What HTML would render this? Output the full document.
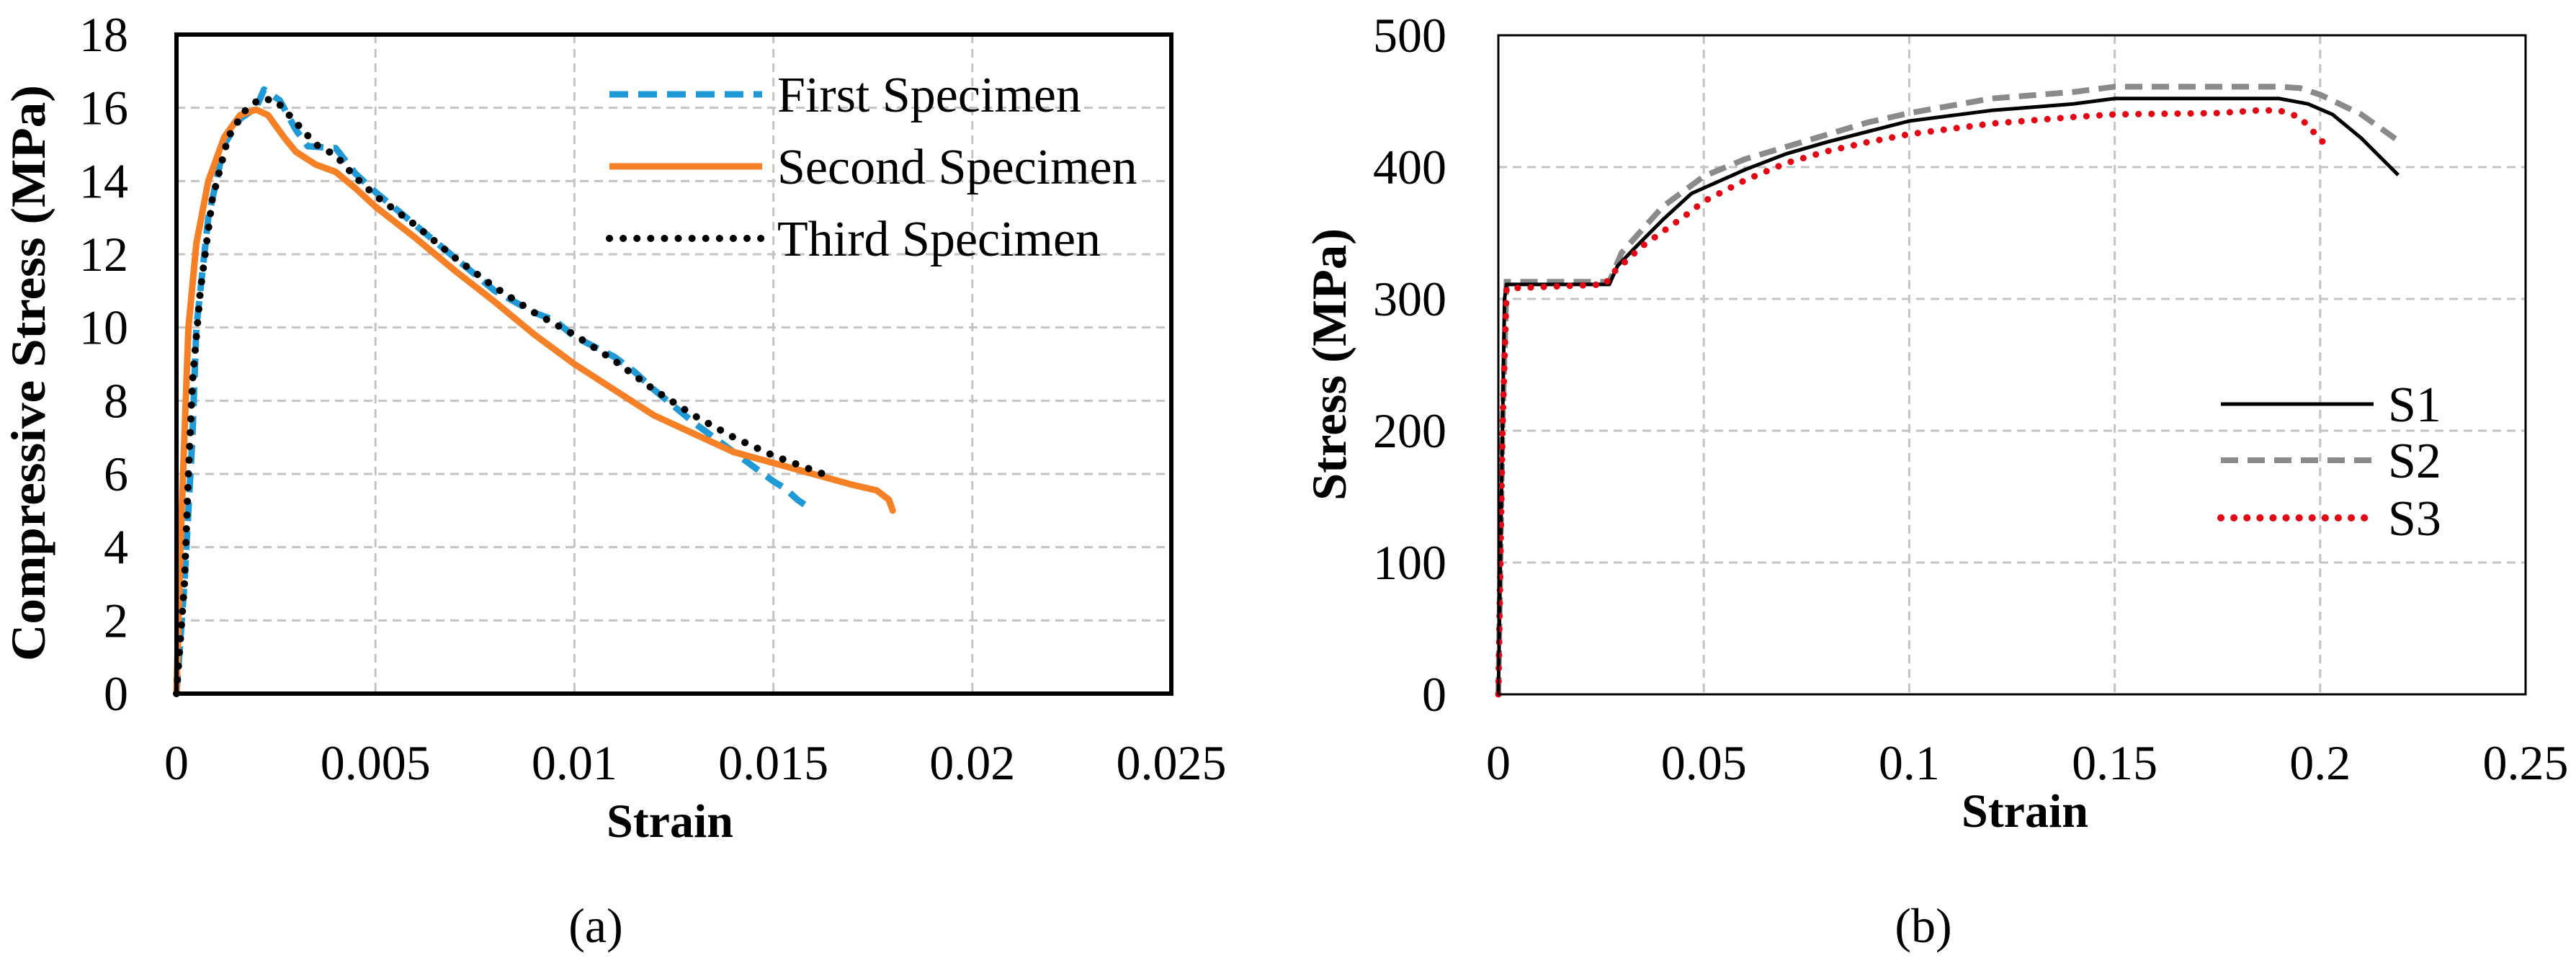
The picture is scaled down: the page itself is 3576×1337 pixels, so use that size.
<!DOCTYPE html>
<html><head><meta charset="utf-8">
<style>
html,body{margin:0;padding:0;background:#fff;}
svg{display:block;}
text{font-family:"Liberation Serif",serif;fill:#000;}
</style></head>
<body>
<svg id="fig" width="3576" height="1337" viewBox="0 0 3576 1337" xmlns="http://www.w3.org/2000/svg">
<g id="chartA"></g>
<g id="chartB"></g>
</svg>
<script>
// ---- Chart (a) data ----
const aXTicks = [0, 0.005, 0.01, 0.015, 0.02, 0.025];
const aXTickLabels = ["0", "0.005", "0.01", "0.015", "0.02", "0.025"];
const aYTicks = [0, 2, 4, 6, 8, 10, 12, 14, 16, 18];
const aFirstX = [0,0.0002,0.0004,0.0005,0.0008,0.0012,0.0016,0.002,0.0022,0.0026,0.003,0.0033,0.004,0.0045,0.005,0.006,0.007,0.008,0.009,0.0095,0.010,0.011,0.0115,0.012,0.013,0.014,0.015,0.0153,0.0156,0.0158];
const aFirstY = [0,3,7,10,13,15,15.7,16,16.5,16.2,15.4,14.95,14.9,14.2,13.7,12.8,11.9,11.0,10.4,10.2,9.75,9.2,8.8,8.3,7.4,6.6,5.8,5.6,5.3,5.15];
const aSecondX = [0,0.0001,0.0002,0.0003,0.0005,0.0008,0.0012,0.0016,0.002,0.0023,0.0027,0.003,0.0035,0.004,0.0045,0.005,0.006,0.007,0.008,0.009,0.010,0.011,0.012,0.013,0.014,0.015,0.016,0.017,0.0176,0.0179,0.018];
const aSecondY = [0,4,7,10,12.3,14,15.2,15.8,15.95,15.8,15.2,14.8,14.45,14.25,13.8,13.3,12.45,11.55,10.7,9.8,9.0,8.3,7.6,7.1,6.6,6.3,6.0,5.7,5.55,5.3,5.0];
const aThirdX = [0,0.0002,0.0003,0.0004,0.0006,0.0009,0.0013,0.0017,0.0021,0.0025,0.003,0.0035,0.004,0.0045,0.005,0.006,0.007,0.008,0.009,0.010,0.011,0.012,0.013,0.014,0.015,0.016,0.0165];
const aThirdY = [0,3,6,8.5,11,13.5,15.2,15.9,16.25,16.2,15.6,15.0,14.7,14.1,13.6,12.8,11.9,11.1,10.4,9.8,9.1,8.3,7.6,7.0,6.5,6.1,5.9];

// ---- Chart (b) data ----
const bXTicks = [0, 0.05, 0.1, 0.15, 0.2, 0.25];
const bXTickLabels = ["0", "0.05", "0.1", "0.15", "0.2", "0.25"];
const bYTicks = [0, 100, 200, 300, 400, 500];
const bS1X = [0,0.001,0.0015,0.002,0.027,0.029,0.033,0.04,0.047,0.06,0.07,0.08,0.09,0.1,0.12,0.14,0.15,0.19,0.197,0.203,0.21,0.219];
const bS1Y = [0,200,300,311,311,325,338,360,380,398,410,419,427,435,443,448,452,452,448,440,422,394];
const bS2X = [0,0.001,0.002,0.027,0.03,0.04,0.05,0.06,0.075,0.09,0.1,0.12,0.14,0.15,0.19,0.195,0.2,0.21,0.219];
const bS2Y = [0,200,313,313,335,370,393,406,420,434,441,452,457,461,461,460,455,440,420];
const bS3X = [0,0.001,0.002,0.026,0.028,0.035,0.045,0.05,0.06,0.07,0.08,0.09,0.1,0.12,0.14,0.15,0.175,0.185,0.19,0.195,0.198,0.201];
const bS3Y = [0,200,308,311,320,340,362,374,390,403,412,419,425,433,438,440,441,443,443,438,428,418];

const NS = "http://www.w3.org/2000/svg";
function mk(parent, tag, attrs, txt){
  const e = document.createElementNS(NS, tag);
  for (const k in attrs) e.setAttribute(k, attrs[k]);
  if (txt !== undefined) e.textContent = txt;
  parent.appendChild(e);
  return e;
}
function linear(d0,d1,r0,r1){ return v => r0 + (v-d0)/(d1-d0)*(r1-r0); }
function pathD(xs, ys, sx, sy){
  return xs.map((x,i)=>(i?"L":"M")+sx(x).toFixed(1)+","+sy(ys[i]).toFixed(1)).join("");
}

// ===== Chart A =====
(function(){
  const g = document.getElementById('chartA');
  const L=245,R=1626,T=48,B=963;
  const sx = linear(0,0.025,L,R), sy = linear(0,18,B,T);
  aXTicks.forEach((t,i)=>{
    if(i>0 && i<aXTicks.length-1){
      const l = mk(g,'line',{x1:sx(t),x2:sx(t),y1:T,y2:B,stroke:'#c4c4c4','stroke-width':3,'stroke-dasharray':'12 8'});
      
      
    }
    const tx = mk(g,'text',{x:sx(t),y:1082,'font-size':68,'text-anchor':'middle'},aXTickLabels[i]);
    
    
  });
  aYTicks.forEach((t,i)=>{
    if(i>0 && i<aYTicks.length-1){
      const l = mk(g,'line',{x1:L,x2:R,y1:sy(t),y2:sy(t),stroke:'#c4c4c4','stroke-width':3,'stroke-dasharray':'12 8'});
      
      
    }
    const tx = mk(g,'text',{x:178,y:sy(t)+23,'font-size':68,'text-anchor':'end'},String(t));
    
    
  });
  const first = mk(g,'path',{d:pathD(aFirstX,aFirstY,sx,sy),fill:'none',stroke:'#1f9ad6','stroke-width':9,'stroke-dasharray':'26 14','stroke-linejoin':'round'});
  
  
  const second = mk(g,'path',{d:pathD(aSecondX,aSecondY,sx,sy),fill:'none',stroke:'#f58025','stroke-width':9,'stroke-linejoin':'round','stroke-linecap':'round'});
  
  
  const third = mk(g,'path',{d:pathD(aThirdX,aThirdY,sx,sy),fill:'none',stroke:'#000','stroke-width':10,'stroke-dasharray':'0.1 19','stroke-linecap':'round'});
  
  
  const frame = mk(g,'rect',{x:L,y:T,width:R-L,height:B-T,fill:'none',stroke:'#000','stroke-width':6});
  
  
  // legend
  const leg = mk(g,'g',{});
  
  
  const rows = [["First Specimen",131,{stroke:'#1f9ad6','stroke-dasharray':'26 14'}],["Second Specimen",231,{stroke:'#f58025'}],["Third Specimen",331,{stroke:'#000','stroke-dasharray':'0.1 19','stroke-linecap':'round','stroke-width':10}]];
  rows.forEach(r=>{
    const a = Object.assign({x1:846,x2:1058,y1:r[1],y2:r[1],'stroke-width':9},r[2]);
    const ln = mk(leg,'line',a);
    
    
    const tx = mk(leg,'text',{x:1079,y:r[1]+24,'font-size':70},r[0]);
    
    
  });
  const yt = mk(g,'text',{transform:'translate(62,518) rotate(-90)','font-size':68,'font-weight':'bold','text-anchor':'middle',textLength:800,lengthAdjust:'spacingAndGlyphs'},'Compressive Stress (MPa)');
  
  
  const xt = mk(g,'text',{x:930,y:1162,'font-size':66,'font-weight':'bold','text-anchor':'middle'},'Strain');
  
  
  const cap = mk(g,'text',{x:827,y:1308,'font-size':68,'text-anchor':'middle'},'(a)');
  
  
})();

// ===== Chart B =====
(function(){
  const g = document.getElementById('chartB');
  const L=2080,R=3506,T=49,B=964;
  const sx = linear(0,0.25,L,R), sy = linear(0,500,B,T);
  bXTicks.forEach((t,i)=>{
    if(i>0 && i<bXTicks.length-1){
      const l = mk(g,'line',{x1:sx(t),x2:sx(t),y1:T,y2:B,stroke:'#c4c4c4','stroke-width':3,'stroke-dasharray':'12 8'});
      
      
    }
    const tx = mk(g,'text',{x:sx(t),y:1082,'font-size':68,'text-anchor':'middle'},bXTickLabels[i]);
    
    
  });
  bYTicks.forEach((t,i)=>{
    if(i>0 && i<bYTicks.length-1){
      const l = mk(g,'line',{x1:L,x2:R,y1:sy(t),y2:sy(t),stroke:'#c4c4c4','stroke-width':3,'stroke-dasharray':'12 8'});
      
      
    }
    const tx = mk(g,'text',{x:2008,y:sy(t)+23,'font-size':68,'text-anchor':'end'},String(t));
    
    
  });
  const s2 = mk(g,'path',{d:pathD(bS2X,bS2Y,sx,sy),fill:'none',stroke:'#8a8a8a','stroke-width':8,'stroke-dasharray':'24 13'});
  
  
  const s1 = mk(g,'path',{d:pathD(bS1X,bS1Y,sx,sy),fill:'none',stroke:'#000','stroke-width':5,'stroke-linejoin':'round'});
  
  
  const s3 = mk(g,'path',{d:pathD(bS3X,bS3Y,sx,sy),fill:'none',stroke:'#e30613','stroke-width':9,'stroke-dasharray':'0.1 18','stroke-linecap':'round'});
  
  
  const frame = mk(g,'rect',{x:L,y:T,width:R-L,height:B-T,fill:'none',stroke:'#000','stroke-width':3});
  
  
  const leg = mk(g,'g',{});
  
  
  const rows = [["S1",561,{stroke:'#000','stroke-width':5}],["S2",639,{stroke:'#8a8a8a','stroke-width':8,'stroke-dasharray':'24 13'}],["S3",719,{stroke:'#e30613','stroke-width':10,'stroke-dasharray':'0.1 18','stroke-linecap':'round'}]];
  rows.forEach(r=>{
    const a = Object.assign({x1:3083,x2:3295,y1:r[1],y2:r[1]},r[2]);
    const ln = mk(leg,'line',a);
    
    
    const tx = mk(leg,'text',{x:3315,y:r[1]+24,'font-size':70},r[0]);
    
    
  });
  const yt = mk(g,'text',{transform:'translate(1868,506) rotate(-90)','font-size':68,'font-weight':'bold','text-anchor':'middle',textLength:378,lengthAdjust:'spacingAndGlyphs'},'Stress (MPa)');
  
  
  const xt = mk(g,'text',{x:2811,y:1148,'font-size':66,'font-weight':'bold','text-anchor':'middle'},'Strain');
  
  
  const cap = mk(g,'text',{x:2670,y:1308,'font-size':68,'text-anchor':'middle'},'(b)');
  
  
})();
</script>
</body></html>
